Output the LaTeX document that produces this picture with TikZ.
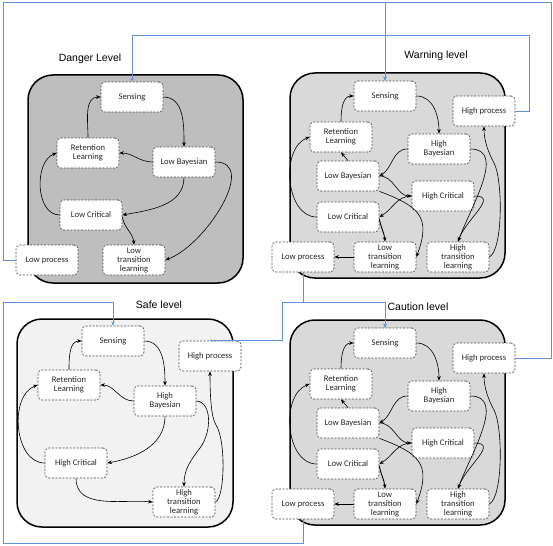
\documentclass[tikz,border=0pt]{standalone}
\usepackage{fontspec}
\setmainfont{Liberation Sans}
\newfontfamily\nodefont{Carlito}
\usetikzlibrary{arrows.meta}
\definecolor{blueln}{RGB}{96,146,212}
\definecolor{dangerfill}{RGB}{190,190,190}
\definecolor{midfill}{RGB}{217,217,217}
\definecolor{safefill}{RGB}{242,242,242}
\newcommand{\wcLevel}[3]{%
\begin{scope}[yshift=#3]
\draw[panel, fill=#2] (290,-73) rectangle (505,-278);
\node[box] (#1S)  at (385,-96)  {Sensing};
\node[box] (#1HP) at (484,-111) {High process};
\node[box] (#1RL) at (341,-137) {Retention\\Learning};
\node[box] (#1HB) at (439,-149) {High\\Bayesian};
\node[box] (#1LB) at (348,-176) {Low Bayesian};
\node[box] (#1HC) at (443,-196) {High Critical};
\node[box] (#1LC) at (348,-217) {Low Critical};
\node[box] (#1LP) at (303,-257) {Low process};
\node[box] (#1LT) at (385,-257) {Low\\transition\\learning};
\node[box] (#1HT) at (458,-257) {High\\transition\\learning};
\draw[ar] (#1S.east) to[out=0,in=90] (#1HB.north);
\draw[ar] (#1RL.north) to[out=90,in=180] (#1S.west);
\draw[ar] (#1LB.north) -- (#1RL.south);
\draw[ar] (#1HB.west) to[out=180,in=30] (#1LB.east);
\draw[ar] (#1LB.east) to[out=0,in=180] (#1HC.west);
\draw[ar] (#1HC.west) to[out=180,in=30] (#1LC.east);
\draw[ar] (#1LB.south east) .. controls +(40,-15) and +(15,40) .. (#1LT.east);
\draw[ar, line width=0.9pt] ([yshift=-2pt]#1LC.east) to[out=-80,in=95] (#1LT.north);
\draw[ar] (#1LC.west) to[out=180,in=200] (#1RL.west);
\draw[ar] (#1HB.east) to[out=0,in=70] (#1HT.north);
\draw[ar] (#1HC.east) to[out=0,in=70,looseness=1.3] (#1HT.north);
\draw[ar] (#1HT.east) .. controls (503,-250) and (503,-180) .. (494,-163) .. controls (488,-152) and (484,-140) .. (#1HP.south);
\draw[ar] (#1LT.west) -- (#1LP.east);
\end{scope}}
\begin{document}
\begin{tikzpicture}[x=1pt,y=1pt,
  box/.style={draw=black!70, dash pattern=on 2pt off 1.5pt, fill=white, rounded corners=4pt,
    minimum width=62pt, minimum height=30pt, align=center, text=black!85,
    font=\nodefont\fontsize{8.6}{9}\selectfont, inner sep=1pt, line width=0.7pt},
  panel/.style={draw=black, line width=1.5pt, rounded corners=25pt},
  ar/.style={-{Stealth[length=4.5pt,width=3.6pt]}, line width=0.6pt, black},
  bl/.style={blueln, line width=0.8pt, -{Stealth[length=4pt,width=3.4pt]}},
  ttl/.style={font=\fontsize{10.5}{12}\selectfont}]
\useasboundingbox (0,0) rectangle (553,-545);
% titles
\node[ttl] (tD) at (90,-59) {Danger Level};
\node[ttl] (tW) at (436,-56) {Warning level};
\node[ttl] (tS) at (159,-305) {Safe level};
\node[ttl] (tC) at (418,-307) {Caution level};
% Danger
\draw[panel, fill=dangerfill] (28,-75) rectangle (243,-283);
\node[box] (dS)  at (132,-97)  {Sensing};
\node[box] (dRL) at (88,-153)  {Retention\\Learning};
\node[box] (dLB) at (184,-162) {Low Bayesian};
\node[box] (dLC) at (91,-215)  {Low Critical};
\node[box] (dLP) at (47,-260)  {Low process};
\node[box] (dLT) at (134,-260) {Low\\transition\\learning};
\draw[ar] (dS.east) to[out=0,in=90] (dLB.north);
\draw[ar] (dLB.west) to[out=180,in=0] (dRL.east);
\draw[ar] (dRL.north) to[out=90,in=180] (dS.west);
\draw[ar] (dLB.south) to[out=-90,in=10] (dLC.east);
\draw[ar] (dLC.west) to[out=180,in=200] (dRL.west);
\draw[ar] (dLB.east) to[out=0,in=20] (dLT.east);
\draw[ar] ([yshift=-2pt]dLC.east) to[out=-80,in=95] (dLT.north);
% Warning and Caution
\wcLevel{w}{midfill}{0pt}
\wcLevel{c}{midfill}{-247pt}
% Safe
\draw[panel, fill=safefill] (17,-319) rectangle (233,-527);
\node[box] (sS)  at (113,-341) {Sensing};
\node[box] (sHP) at (210,-356) {High process};
\node[box] (sRL) at (69,-385)  {Retention\\Learning};
\node[box] (sHB) at (165,-401) {High\\Bayesian};
\node[box] (sHC) at (76,-463)  {High Critical};
\node[box] (sHT) at (184,-502) {High\\transition\\learning};
\draw[ar] (sS.east) to[out=0,in=90] (sHB.north);
\draw[ar] (sRL.north) to[out=90,in=180] (sS.west);
\draw[ar] (sHB.west) to[out=180,in=0] (sRL.east);
\draw[ar] (sHB.south) to[out=-90,in=10] (sHC.east);
\draw[ar] (sHC.west) to[out=180,in=200] (sRL.west);
\draw[ar] (sHB.east) .. controls (212,-402) and (212,-432) .. (200,-448) .. controls (190,-461) and (184,-470) .. (sHT.north);
\draw[ar] (sHC.south) to[out=-90,in=175] (sHT.west);
\draw[ar] (sHT.east) .. controls (225,-498) and (226,-440) .. (216,-425) .. controls (211,-417) and (210,-395) .. (sHP.south);
% blue links
\draw[bl] (dLP.west) -| (3,-2) -| (wS.north);
\draw[bl] (cHP.east) -| (551,-2) -| (wS.north);
\draw[bl] (wHP.east) -| (529,-35) -| (dS.north);
\draw[bl] (wLP.south) -- (303,-302) -| (cS.north);
\draw[bl] (sHP.north) -| (282,-302) -| (cS.north);
\draw[bl] (cLP.south) -- (303,-543) -| (3,-302) -| (sS.north);
\end{tikzpicture}
\end{document}
